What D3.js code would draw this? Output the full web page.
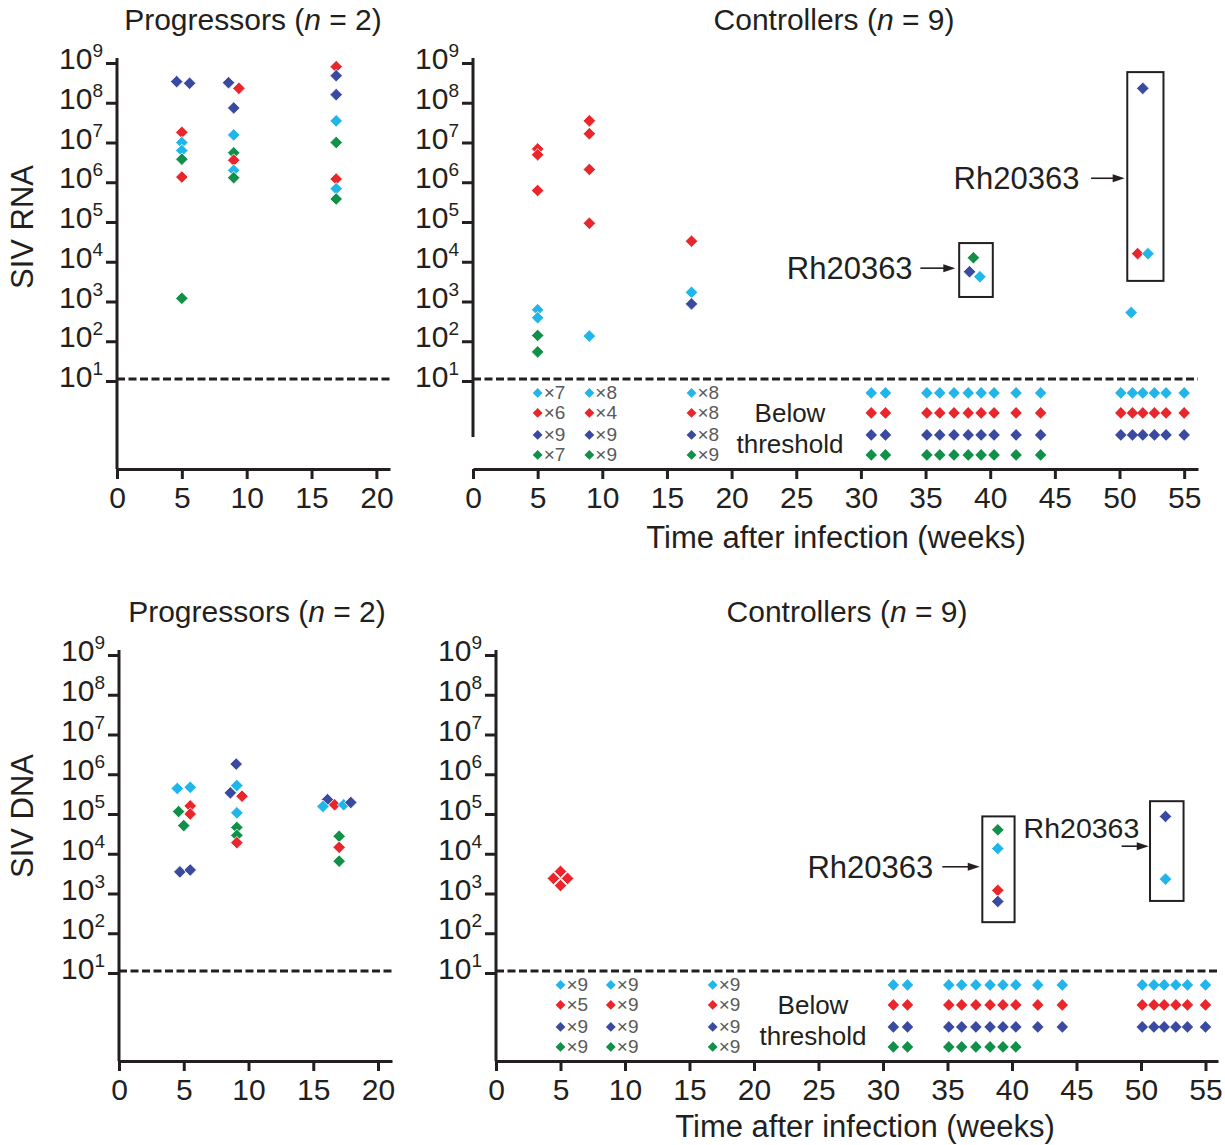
<!DOCTYPE html>
<html>
<head>
<meta charset="utf-8">
<script src="https://cdn.jsdelivr.net/npm/d3@7"></script>
<style>
    body { margin: 0; background: #fff; }
    svg text { font-family: "Liberation Sans", Arial, Helvetica, sans-serif; fill: #231f20; }
</style>
</head>
<body>
<svg id="figure" width="1225" height="1145"></svg>
<script>
const seriesColors = { cyan: "#22b5e9", red: "#e8262b", blue: "#3b4aa1", green: "#11904a" };
const seriesOrder = ["cyan", "red", "blue", "green"];
const decadeTicks = [1e1, 1e2, 1e3, 1e4, 1e5, 1e6, 1e7, 1e8, 1e9];
const progressorWeekTicks = [0, 5, 10, 15, 20];
const controllerWeekTicks = [0, 5, 10, 15, 20, 25, 30, 35, 40, 45, 50, 55];
const thresholdValue = 11.3;

// [week, copies, series]
const rnaProgressors = [
    [4.6, 3.4e8, "blue"], [5.6, 3.1e8, "blue"], [5, 1.8e7, "red"], [5, 1.0e7, "cyan"],
    [5, 6.3e6, "cyan"], [5, 3.8e6, "green"], [5, 1.35e6, "red"], [5, 1.2e3, "green"],
    [8.6, 3.2e8, "blue"], [9.4, 2.3e8, "red"], [9, 7.4e7, "blue"], [9, 1.55e7, "cyan"],
    [9, 5.5e6, "green"], [9, 3.6e6, "red"], [9, 2.0e6, "cyan"], [9, 1.3e6, "green"],
    [16.9, 8.1e8, "red"], [16.9, 4.8e8, "blue"], [16.9, 1.6e8, "blue"], [16.9, 3.5e7, "cyan"],
    [16.9, 1.0e7, "green"], [16.9, 1.2e6, "red"], [16.9, 6.9e5, "cyan"], [16.9, 3.8e5, "green"]
];

const rnaControllers = [
    [5, 6.9e6, "red"], [5, 4.9e6, "red"], [5, 6.2e5, "red"], [5, 620, "cyan"],
    [5, 390, "cyan"], [5, 140, "green"], [5, 54, "green"],
    [9, 3.5e7, "red"], [9, 1.66e7, "red"], [9, 2.1e6, "red"], [9, 9.3e4, "red"], [9, 135, "cyan"],
    [16.9, 3.3e4, "red"], [16.9, 1.7e3, "cyan"], [16.9, 870, "blue"],
    [38.7, 1.26e4, "green"], [38.4, 5.6e3, "blue"], [39.2, 4.2e3, "cyan"],
    [51.8, 2.3e8, "blue"], [51.4, 1.6e4, "red"], [52.2, 1.6e4, "cyan"], [50.9, 525, "cyan"]
];

const dnaProgressors = [
    [4.5, 4.4e5, "cyan"], [5.5, 4.7e5, "cyan"], [4.6, 1.15e5, "green"], [5.5, 1.6e5, "red"],
    [5.5, 1.0e5, "red"], [5.0, 5.1e4, "green"], [4.7, 3.5e3, "blue"], [5.5, 3.9e3, "blue"],
    [9.05, 1.8e6, "blue"], [8.6, 3.4e5, "blue"], [9.1, 5.2e5, "cyan"], [9.5, 2.8e5, "red"],
    [9.1, 1.07e5, "cyan"], [9.1, 4.6e4, "green"], [9.1, 2.9e4, "green"], [9.1, 1.9e4, "red"],
    [16.1, 2.3e5, "blue"], [15.75, 1.55e5, "cyan"], [16.65, 1.7e5, "red"], [17.35, 1.7e5, "cyan"],
    [17.9, 1.95e5, "blue"], [17.0, 2.75e4, "green"], [17.0, 1.45e4, "red"], [17.0, 6.5e3, "green"]
];

const dnaControllers = [
    [5, 3.6e3, "red"], [4.45, 2.4e3, "red"], [5.55, 2.4e3, "red"], [5, 1.58e3, "red"],
    [38.9, 4.0e4, "green"], [38.9, 1.35e4, "cyan"], [38.9, 1.2e3, "red"], [38.9, 630, "blue"],
    [51.9, 8.7e4, "blue"], [51.9, 2.3e3, "cyan"]
];

// below-threshold counts per series (cyan, red, blue, green) at the early weeks
const rnaBelowWeeks = [5, 9, 16.9];
const rnaBelowCounts = [[7, 8, 8], [6, 4, 8], [9, 9, 8], [7, 9, 9]];
const dnaBelowWeeks = [5, 8.9, 16.8];
const dnaBelowCounts = [[9, 9, 9], [5, 9, 9], [9, 9, 9], [9, 9, 9]];

// later weeks, all animals below threshold
const lateWeeks = [30.8, 31.9, 35.1, 36.1, 37.2, 38.3, 39.3, 40.3, 42, 43.9, 50.1, 51, 51.8, 52.7, 53.6, 55];
const rnaLateCount = [16, 16, 16, 10];
const dnaLateCount = [16, 16, 16, 8];

// Rh20363 boxes: [weekFrom, weekTo, valueTop, valueBottom]
const rnaBoxes = [[37.6, 40.2, 2.95e4, 1.3e3], [50.6, 53.4, 5.9e8, 3.3e3]];
const dnaBoxes = [[37.7, 40.2, 8.7e4, 190], [50.7, 53.3, 2.1e5, 650]];
// labels: [textWeek, textValue, anchor, arrowFrom, arrowTo, arrowValue]
const rnaLabels = [[34.0, 6.9e3, "end", 34.6, 37.3, 6.9e3], [46.9, 1.26e6, "end", 47.8, 50.4, 1.26e6]];
const dnaLabels = [[33.9, 4.7e3, "end", 34.6, 37.5, 4.7e3], [40.9, 4.7e4, "start", 48.5, 50.6, 1.55e4]];
const rnaLabelSizes = [31, 31];
const dnaLabelSizes = [31, 28.5];

const svg = d3.select("#figure");

const panels = [
    { data: rnaProgressors, x0: 117, x1: 390, wMax: 21.05, yTop: 63, yTen: 381, xAxisY: 469, yAxisEnd: 469,
      ticks: progressorWeekTicks, title: "Progressors", n: 2, titleX: 253, titleY: 30, yLabel: "SIV RNA", yLabelY: 227 },
    { data: rnaControllers, x0: 473, x1: 1198, wMax: 56.07, yTop: 63, yTen: 381, xAxisY: 469, yAxisEnd: 437,
      ticks: controllerWeekTicks, title: "Controllers", n: 9, titleX: 834, titleY: 30, xLabel: "Time after infection (weeks)", xLabelX: 836, xLabelY: 548,
      below: { weeks: rnaBelowWeeks, counts: rnaBelowCounts, late: rnaLateCount, textX: 790 },
      boxes: rnaBoxes, labels: rnaLabels, labelSizes: rnaLabelSizes },
    { data: dnaProgressors, x0: 119, x1: 392, wMax: 21.08, yTop: 655, yTen: 973, xAxisY: 1061, yAxisEnd: 1061,
      ticks: progressorWeekTicks, title: "Progressors", n: 2, titleX: 257, titleY: 622, yLabel: "SIV DNA", yLabelY: 816 },
    { data: dnaControllers, x0: 496, x1: 1218, wMax: 55.97, yTop: 655, yTen: 973, xAxisY: 1061, yAxisEnd: 1061,
      ticks: controllerWeekTicks, title: "Controllers", n: 9, titleX: 847, titleY: 622, xLabel: "Time after infection (weeks)", xLabelX: 865, xLabelY: 1137,
      below: { weeks: dnaBelowWeeks, counts: dnaBelowCounts, late: dnaLateCount, textX: 813 },
      boxes: dnaBoxes, labels: dnaLabels, labelSizes: dnaLabelSizes }
];

const rowOffsets = [14, 34, 56, 76];
const diamond = d3.symbol().type(d3.symbolDiamond2);

panels.forEach(p => drawPanel(p));

function drawPanel(p) {
    const g = svg.append("g");
    const x = d3.scaleLinear().domain([0, p.wMax]).range([p.x0, p.x1]);
    const y = d3.scaleLog().domain([1e1, 1e9]).range([p.yTen, p.yTop]);

    // axes
    g.append("line")
        .attr("x1", p.x0).attr("x2", p.x0)
        .attr("y1", p.yTop - 5).attr("y2", p.yAxisEnd)
        .attr("stroke", "#231f20").attr("stroke-width", 3);

    const xAxis = g.append("g")
        .attr("transform", `translate(0,${p.xAxisY})`)
        .call(d3.axisBottom(x).tickValues(p.ticks).tickSize(10).tickSizeOuter(0).tickPadding(8));
    xAxis.select(".domain").attr("stroke", "#231f20").attr("stroke-width", 3);
    xAxis.selectAll(".tick line").attr("stroke", "#231f20").attr("stroke-width", 3);
    xAxis.selectAll(".tick text")
        .style("font-size", "30px")
        .attr("fill", "#231f20")
        .attr("font-family", "Liberation Sans, Arial, sans-serif");

    const yAxis = g.append("g")
        .attr("transform", `translate(${p.x0},0)`)
        .call(d3.axisLeft(y).tickValues(decadeTicks).tickSize(11).tickFormat(""));
    yAxis.select(".domain").remove();
    yAxis.selectAll(".tick line").attr("stroke", "#231f20").attr("stroke-width", 3);

    const yLabels = g.selectAll(".ylab")
        .data(decadeTicks)
        .enter()
        .append("text")
        .attr("x", p.x0 - 14)
        .attr("y", d => y(d) + 6)
        .attr("text-anchor", "end");
    yLabels.append("tspan").style("font-size", "30px").text("10");
    yLabels.append("tspan").style("font-size", "19px").attr("dy", -12).text(d => Math.round(Math.log10(d)));

    // threshold
    g.append("line")
        .attr("x1", p.x0).attr("x2", p.x1)
        .attr("y1", y(thresholdValue)).attr("y2", y(thresholdValue))
        .attr("stroke", "#231f20").attr("stroke-width", 3)
        .attr("stroke-dasharray", "8,3.5");

    // title
    const title = g.append("text")
        .attr("x", p.titleX).attr("y", p.titleY)
        .attr("text-anchor", "middle")
        .style("font-size", "30px");
    title.append("tspan").text(p.title + " (");
    title.append("tspan").style("font-style", "italic").text("n");
    title.append("tspan").text(` = ${p.n})`);

    if (p.yLabel) {
        g.append("text")
            .attr("transform", `translate(33,${p.yLabelY}) rotate(-90)`)
            .attr("text-anchor", "middle")
            .style("font-size", "31px")
            .text(p.yLabel);
    }
    if (p.xLabel) {
        g.append("text")
            .attr("x", p.xLabelX).attr("y", p.xLabelY)
            .attr("text-anchor", "middle")
            .style("font-size", "31px")
            .text(p.xLabel);
    }

    // Rh20363 boxes and labels
    (p.boxes || []).forEach(b => {
        g.append("rect")
            .attr("x", x(b[0])).attr("y", y(b[2]))
            .attr("width", x(b[1]) - x(b[0]))
            .attr("height", y(b[3]) - y(b[2]))
            .attr("fill", "none").attr("stroke", "#231f20").attr("stroke-width", 2);
    });
    (p.labels || []).forEach((l, i) => {
        g.append("text")
            .attr("x", x(l[0])).attr("y", y(l[1]) + 11)
            .attr("text-anchor", l[2])
            .style("font-size", p.labelSizes[i] + "px")
            .text("Rh20363");
        const ay = y(l[5]);
        const ax1 = x(l[3]);
        const ax2 = x(l[4]);
        g.append("line")
            .attr("x1", ax1).attr("x2", ax2 - 8)
            .attr("y1", ay).attr("y2", ay)
            .attr("stroke", "#231f20").attr("stroke-width", 1.6);
        g.append("path")
            .attr("d", `M${ax2},${ay} L${ax2 - 12},${ay - 4} L${ax2 - 12},${ay + 4} Z`)
            .attr("fill", "#231f20");
    });

    // data points
    g.selectAll(".pt")
        .data(p.data)
        .enter()
        .append("path")
        .attr("d", diamond.size(100))
        .attr("transform", d => `translate(${x(d[0])},${y(d[1])})`)
        .attr("fill", d => seriesColors[d[2]])
        .attr("stroke", "#fff")
        .attr("stroke-width", 0.8);

    if (!p.below) return;

    const rowY = i => y(thresholdValue) + rowOffsets[i];

    // counts below threshold at the early weeks
    seriesOrder.forEach((s, i) => {
        p.below.weeks.forEach((w, j) => {
            g.append("path")
                .attr("d", diamond.size(62))
                .attr("transform", `translate(${x(w)},${rowY(i)})`)
                .attr("fill", seriesColors[s]);
            g.append("text")
                .attr("x", x(w) + 6).attr("y", rowY(i) + 6)
                .style("font-size", "19px")
                .style("fill", "#5a5a5a")
                .text("\u00d7" + p.below.counts[i][j]);
        });
        g.selectAll(".late-" + s)
            .data(lateWeeks.slice(0, p.below.late[i]))
            .enter()
            .append("path")
            .attr("d", diamond.size(85))
            .attr("transform", w => `translate(${x(w)},${rowY(i)})`)
            .attr("fill", seriesColors[s]);
    });

    g.append("text")
        .attr("x", p.below.textX).attr("y", rowY(1) + 9)
        .attr("text-anchor", "middle")
        .style("font-size", "26px")
        .text("Below");
    g.append("text")
        .attr("x", p.below.textX).attr("y", rowY(2) + 18)
        .attr("text-anchor", "middle")
        .style("font-size", "26px")
        .text("threshold");
}
</script>
</body>
</html>
